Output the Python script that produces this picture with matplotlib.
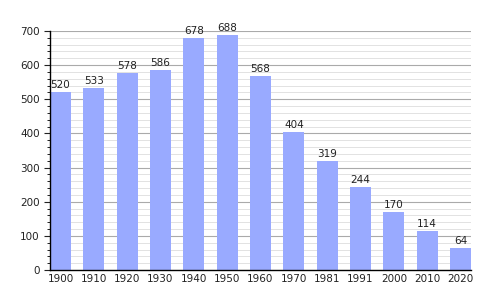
import matplotlib
matplotlib.use("Agg")
import matplotlib.pyplot as plt
from matplotlib.ticker import MultipleLocator

years = ["1900", "1910", "1920", "1930", "1940", "1950", "1960",
         "1970", "1981", "1991", "2000", "2010", "2020"]
population = [520, 533, 578, 586, 678, 688, 568, 404, 319, 244, 170, 114, 64]

fig = plt.figure(figsize=(5, 3), dpi=100)
ax = fig.add_axes([0.1, 0.1, 0.842, 0.797])

x = range(len(years))
ax.bar(x, population, width=0.63, color="#99aaff", zorder=2)

for i, v in enumerate(population):
    ax.text(i, v + 6, str(v), ha="center", va="bottom", fontsize=7.5, color="#222222")

ax.set_xlim(-0.315, len(years) - 1 + 0.315)
ax.set_ylim(0, 700)
ax.set_xticks(list(x))
ax.set_xticklabels(years)
ax.yaxis.set_major_locator(MultipleLocator(100))
ax.yaxis.set_minor_locator(MultipleLocator(20))
ax.grid(axis="y", which="major", color="#aaaaaa", linewidth=0.8, zorder=0)
ax.grid(axis="y", which="minor", color="#dddddd", linewidth=0.6, zorder=0)
ax.set_axisbelow(True)

for s in ("top", "right"):
    ax.spines[s].set_visible(False)
ax.spines["left"].set_linewidth(1)
ax.spines["bottom"].set_linewidth(1)
ax.tick_params(axis="y", which="major", length=4, labelsize=7.5, colors="#222222")
ax.tick_params(axis="y", which="minor", length=2)
ax.tick_params(axis="x", length=0, labelsize=7.5, colors="#222222", pad=3)

fig.savefig("out.png", dpi=100)
